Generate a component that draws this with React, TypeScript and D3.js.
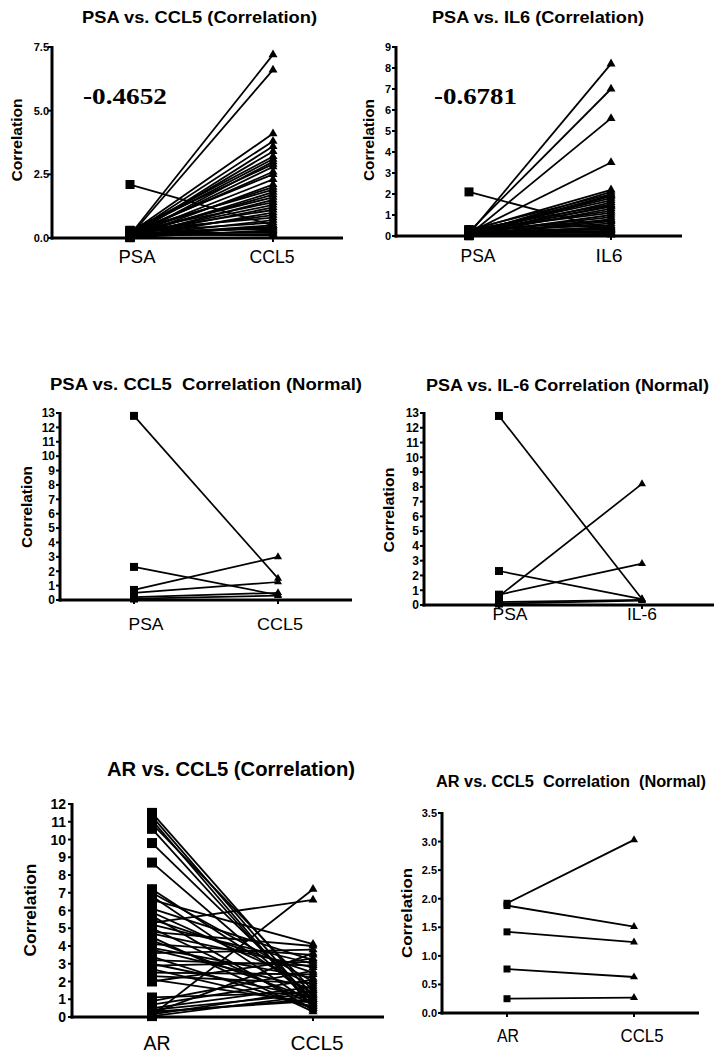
import React from "react";
import * as d3 from "d3";

// ---------- DATA ----------
// Panel A: PSA vs. CCL5 (Correlation)
const A_PSA = [2.1, 0.12, 0.08, 0.2, 0.15, 0.05, 0.1, 0.25, 0.18, 0.03, 0.3, 0.07, 0.14, 0.22, 0.09, 0.02, 0.17, 0.28, 0.06, 0.11, 0.19, 0.04, 0.26, 0.13, 0.08, 0.21, 0.01, 0.16, 0.3, 0.07, 0.24, 0.1, 0.05, 0.18, 0.27, 0.03, 0.12, 0.2, 0.09, 0.15];
const A_CCL5 = [0.5, 7.2, 6.6, 4.1, 3.8, 3.6, 3.4, 3.2, 3.1, 3.0, 2.9, 2.8, 2.6, 2.5, 2.3, 2.1, 2.0, 1.9, 1.8, 1.7, 1.6, 1.5, 1.4, 1.3, 1.2, 1.1, 1.0, 0.9, 0.8, 0.7, 0.6, 0.5, 0.45, 0.4, 0.35, 0.3, 0.25, 0.2, 0.15, 0.1];
// Panel B: PSA vs. IL6 (Correlation)
const B_PSA = [2.1, 0.1, 0.2, 0.05, 0.15, 0.25, 0.08, 0.3, 0.12, 0.02, 0.18, 0.22, 0.06, 0.28, 0.1, 0.14, 0.04, 0.2, 0.26, 0.09, 0.16, 0.01, 0.24, 0.07, 0.13, 0.3, 0.03, 0.19, 0.11, 0.21, 0.05, 0.17, 0.27, 0.08, 0.15];
const B_IL6 = [0.3, 8.2, 7.0, 5.6, 3.5, 2.2, 2.1, 2.0, 1.95, 1.9, 1.8, 1.7, 1.6, 1.5, 1.45, 1.4, 1.3, 1.2, 1.1, 1.0, 0.9, 0.8, 0.75, 0.7, 0.6, 0.5, 0.45, 0.4, 0.35, 0.3, 0.25, 0.2, 0.15, 0.1, 0.05];
// Panel C: PSA vs. CCL5 Correlation (Normal)
const C_PSA = [12.8, 2.3, 0.7, 0.5, 0.2, 0.1];
const C_CCL5 = [1.5, 0.35, 3.0, 1.25, 0.5, 0.3];
// Panel D: PSA vs. IL-6 Correlation (Normal)
const D_PSA = [12.8, 2.3, 0.6, 0.7, 0.2, 0.1];
const D_IL6 = [0.4, 0.4, 8.2, 2.8, 0.35, 0.3];
// Panel E: AR vs. CCL5 (Correlation)
const E_AR = [11.5, 11.3, 11.1, 10.9, 10.6, 9.8, 8.7, 7.2, 7.0, 6.8, 6.6, 6.1, 5.9, 5.7, 5.5, 5.3, 5.2, 5.0, 4.8, 4.7, 4.5, 4.3, 4.1, 3.9, 3.8, 3.6, 3.4, 3.2, 3.0, 2.9, 2.7, 2.5, 2.3, 2.1, 2.0, 1.1, 0.9, 0.7, 0.5, 0.3, 0.2, 0.1, 0.05, 0.15, 0.25, 0.4];
const E_CCL5 = [1.2, 0.8, 0.5, 1.5, 0.6, 1.0, 0.9, 1.3, 2.0, 0.7, 4.1, 3.2, 1.8, 0.4, 2.5, 6.6, 3.0, 0.7, 4.0, 2.8, 0.3, 1.0, 3.5, 2.2, 1.6, 3.8, 0.5, 2.9, 1.1, 3.1, 0.6, 2.4, 1.9, 0.8, 3.3, 1.4, 2.6, 2.1, 1.7, 0.9, 3.6, 7.2, 1.2, 1.5, 1.0, 1.3];
// Panel F: AR vs. CCL5 Correlation (Normal)
const F_AR = [1.92, 1.88, 1.42, 0.77, 0.25];
const F_CCL5 = [3.03, 1.51, 1.24, 0.63, 0.27];

// Tick label sets
const TICKS_A = [0, 2.5, 5.0, 7.5];
const TICKS_B = [0, 1, 2, 3, 4, 5, 6, 7, 8, 9];
const TICKS_CD = [0, 1, 2, 3, 4, 5, 6, 7, 8, 9, 10, 11, 12, 13];
const TICKS_E = [0, 1, 2, 3, 4, 5, 6, 7, 8, 9, 10, 11, 12];
const TICKS_F = [0, 0.5, 1.0, 1.5, 2.0, 2.5, 3.0, 3.5];

const SANS = "'Liberation Sans', Arial, sans-serif";
const SERIF = "'Liberation Serif', 'Times New Roman', serif";

type Cfg = {
  title: string; titleX: number; titleY: number; titleLen: number; titleSize: number;
  axisX: number; y0: number; y1: number; xEnd: number; yMax: number;
  ticks: number[]; fmt: (v: number) => string; tickSize: number; tickGap: number;
  cats: [string, string]; catX: [number, number]; labelX: [number, number]; labelY: number;
  labelSize: number; labelLen: [number, number];
  left: number[]; right: number[];
  ylabX: number; ylabY: number; ylabLen: number; ylabSize: number;
  sq: number; tri: number; lw: number;
  note?: string; noteX?: number; noteY?: number; noteLen?: number;
};

function Panel({ c }: { c: Cfg }) {
  const y = d3.scaleLinear().domain([0, c.yMax]).range([c.y0, c.y1]);
  const x = d3.scalePoint<string>().domain(c.cats).range(c.catX);
  const pairs = d3.zip(c.left, c.right);
  const sq = d3.symbol(d3.symbolSquare, c.sq * c.sq)()!;
  const tri = d3.symbol(d3.symbolTriangle, c.tri * c.tri * 0.433)()!;
  const xl = x(c.cats[0])!;
  const xr = x(c.cats[1])!;
  return (
    <g>
      <text x={c.titleX} y={c.titleY} fontFamily={SANS} fontWeight="bold" fontSize={c.titleSize}
        textLength={c.titleLen} lengthAdjust="spacingAndGlyphs" style={{ whiteSpace: "pre" }}>{c.title}</text>
      {pairs.map(([a, b], i) => (
        <line key={"l" + i} x1={xl} y1={y(a)} x2={xr} y2={y(b)} stroke="#000" strokeWidth={c.lw} />
      ))}
      {pairs.map(([a], i) => (
        <path key={"s" + i} d={sq} transform={`translate(${xl},${y(a)})`} fill="#000" />
      ))}
      {pairs.map(([, b], i) => (
        <path key={"t" + i} d={tri} transform={`translate(${xr},${y(b)})`} fill="#000" />
      ))}
      <line x1={c.axisX} y1={y(c.yMax) - 1} x2={c.axisX} y2={c.y0 + 1.5} stroke="#000" strokeWidth={3} />
      <line x1={c.axisX - 1.5} y1={c.y0} x2={c.xEnd} y2={c.y0} stroke="#000" strokeWidth={3} />
      {c.ticks.map((t) => (
        <g key={"k" + t}>
          <line x1={c.axisX - 4} x2={c.axisX} y1={y(t)} y2={y(t)} stroke="#000" strokeWidth={2} />
          <text x={c.axisX - c.tickGap} y={y(t)} dy="0.36em" textAnchor="end" fontFamily={SANS}
            fontWeight="bold" fontSize={c.tickSize}>{c.fmt(t)}</text>
        </g>
      ))}
      <line x1={xl} x2={xl} y1={c.y0} y2={c.y0 + 4} stroke="#000" strokeWidth={2} />
      <line x1={xr} x2={xr} y1={c.y0} y2={c.y0 + 4} stroke="#000" strokeWidth={2} />
      {c.cats.map((k, i) => (
        <text key={k} x={c.labelX[i]} y={c.labelY} textAnchor="middle" fontFamily={SANS}
          fontSize={c.labelSize} textLength={c.labelLen[i]} lengthAdjust="spacingAndGlyphs">{k}</text>
      ))}
      <text transform={`translate(${c.ylabX},${c.ylabY}) rotate(-90)`} textAnchor="middle" dy="0.36em"
        fontFamily={SANS} fontWeight="bold" fontSize={c.ylabSize} textLength={c.ylabLen}
        lengthAdjust="spacingAndGlyphs">Correlation</text>
      {c.note && (
        <text x={c.noteX} y={c.noteY} fontFamily={SERIF} fontWeight="bold" fontSize={23}
          textLength={c.noteLen} lengthAdjust="spacingAndGlyphs">{c.note}</text>
      )}
    </g>
  );
}

const f1 = (v: number) => v.toFixed(1);
const f0 = (v: number) => String(v);

const panels: Cfg[] = [
  {
    title: "PSA vs. CCL5 (Correlation)", titleX: 82, titleY: 23, titleLen: 235, titleSize: 17,
    axisX: 52, y0: 238, y1: 47, xEnd: 343, yMax: 7.5, ticks: TICKS_A, fmt: f1, tickSize: 11, tickGap: 3,
    cats: ["PSA", "CCL5"], catX: [130, 273], labelX: [137, 272], labelY: 263, labelSize: 19, labelLen: [37, 45],
    left: A_PSA, right: A_CCL5, ylabX: 17, ylabY: 140, ylabLen: 83, ylabSize: 14, sq: 9, tri: 9, lw: 1.8,
    note: "-0.4652", noteX: 83, noteY: 104, noteLen: 84,
  },
  {
    title: "PSA vs. IL6 (Correlation)", titleX: 432, titleY: 23, titleLen: 212, titleSize: 17,
    axisX: 396, y0: 236, y1: 47, xEnd: 682, yMax: 9, ticks: TICKS_B, fmt: f0, tickSize: 11, tickGap: 5,
    cats: ["PSA", "IL6"], catX: [469, 611], labelX: [478, 609], labelY: 262, labelSize: 19, labelLen: [35, 27],
    left: B_PSA, right: B_IL6, ylabX: 369, ylabY: 140, ylabLen: 82, ylabSize: 14, sq: 9, tri: 9, lw: 1.8,
    note: "-0.6781", noteX: 434, noteY: 104, noteLen: 83,
  },
  {
    title: "PSA vs. CCL5  Correlation (Normal)", titleX: 50, titleY: 390, titleLen: 312, titleSize: 16,
    axisX: 60, y0: 600, y1: 413, xEnd: 352, yMax: 13, ticks: TICKS_CD, fmt: f0, tickSize: 12, tickGap: 5,
    cats: ["PSA", "CCL5"], catX: [134, 278], labelX: [146, 280], labelY: 630, labelSize: 17, labelLen: [35, 46],
    left: C_PSA, right: C_CCL5, ylabX: 27, ylabY: 507, ylabLen: 82, ylabSize: 14, sq: 8, tri: 8, lw: 1.7,
  },
  {
    title: "PSA vs. IL-6 Correlation (Normal)", titleX: 426, titleY: 391, titleLen: 283, titleSize: 16,
    axisX: 424, y0: 605, y1: 413, xEnd: 714, yMax: 13, ticks: TICKS_CD, fmt: f0, tickSize: 12, tickGap: 5,
    cats: ["PSA", "IL-6"], catX: [499, 642], labelX: [510, 642], labelY: 620, labelSize: 17, labelLen: [35, 30],
    left: D_PSA, right: D_IL6, ylabX: 389, ylabY: 510, ylabLen: 85, ylabSize: 14, sq: 8, tri: 8, lw: 1.7,
  },
  {
    title: "AR vs. CCL5 (Correlation)", titleX: 107, titleY: 776, titleLen: 248, titleSize: 20,
    axisX: 72, y0: 1017, y1: 804, xEnd: 384, yMax: 12, ticks: TICKS_E, fmt: f0, tickSize: 14, tickGap: 6,
    cats: ["AR", "CCL5"], catX: [152, 313], labelX: [157, 317], labelY: 1050, labelSize: 21, labelLen: [27, 53],
    left: E_AR, right: E_CCL5, ylabX: 30, ylabY: 910, ylabLen: 93, ylabSize: 16, sq: 10, tri: 9, lw: 1.8,
  },
  {
    title: "AR vs. CCL5  Correlation  (Normal)", titleX: 436, titleY: 787, titleLen: 270, titleSize: 16,
    axisX: 442, y0: 1013, y1: 813, xEnd: 699, yMax: 3.5, ticks: TICKS_F, fmt: f1, tickSize: 11, tickGap: 5,
    cats: ["AR", "CCL5"], catX: [507, 634], labelX: [508, 642], labelY: 1042, labelSize: 18, labelLen: [22, 43],
    left: F_AR, right: F_CCL5, ylabX: 407, ylabY: 913, ylabLen: 90, ylabSize: 15, sq: 7, tri: 8, lw: 1.8,
  },
];

export default function App() {
  return (
    <svg width={714} height={1053} viewBox="0 0 714 1053"
      style={{ position: "absolute", left: 0, top: 0, background: "#fff", display: "block" }}>
      <rect width={714} height={1053} fill="#fff" />
      {panels.map((c, i) => <Panel key={i} c={c} />)}
    </svg>
  );
}
